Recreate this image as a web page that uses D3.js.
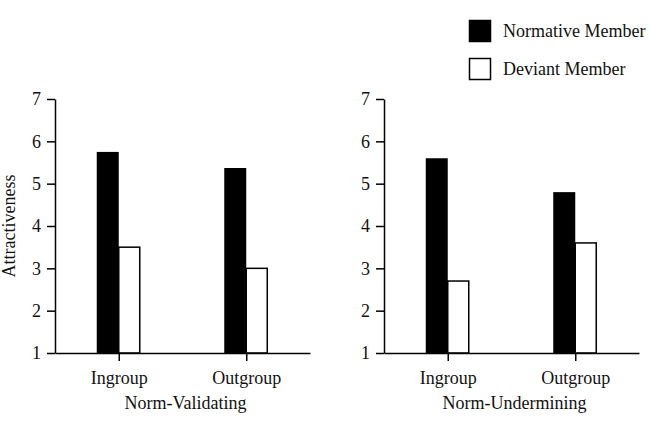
<!DOCTYPE html>
<html>
<head>
<meta charset="utf-8">
<script src="https://cdn.jsdelivr.net/npm/d3@7"></script>
<style>
  body { margin: 0; background: #fff; }
  svg text { font-family: "Liberation Serif", "DejaVu Serif", serif; fill: #111; }
</style>
</head>
<body>
<div id="chart"></div>
<script>
// data
const groups = ['Ingroup', 'Outgroup'];
const conditions = ['Norm-Validating', 'Norm-Undermining'];
const normativeValues = [[5.75, 5.37], [5.6, 4.8]];
const deviantValues = [[3.5, 3.0], [2.7, 3.6]];
const yTicks = [1, 2, 3, 4, 5, 6, 7];
const seriesNames = ['Normative Member', 'Deviant Member'];

const width = 650, height = 422;
const fontSize = 18;
const panelX = [55, 384]; // y-axis position of each panel
const panelW = 255;
const plotTop = 99, plotBottom = 353;
const barW = 22;

const svg = d3.select('#chart')
  .append('svg')
  .attr('width', width)
  .attr('height', height);

const yScale = d3.scaleLinear()
  .domain([1, 7])
  .range([plotBottom, plotTop]);

conditions.forEach((cond, i) => {
  const x0 = panelX[i];
  const xScale = d3.scalePoint()
    .domain(groups)
    .range([x0, x0 + panelW])
    .padding(0.5);

  const g = svg.append('g').attr('class', 'panel');

  // bars: normative (black) left of tick, deviant (white) right of tick
  g.selectAll('.bar-normative')
    .data(groups)
    .join('rect')
    .attr('class', 'bar-normative')
    .attr('x', d => xScale(d) - barW)
    .attr('y', (d, j) => yScale(normativeValues[i][j]))
    .attr('width', barW)
    .attr('height', (d, j) => yScale(1) - yScale(normativeValues[i][j]))
    .attr('fill', '#000');

  g.selectAll('.bar-deviant')
    .data(groups)
    .join('rect')
    .attr('class', 'bar-deviant')
    .attr('x', d => xScale(d))
    .attr('y', (d, j) => yScale(deviantValues[i][j]))
    .attr('width', barW - 1)
    .attr('height', (d, j) => yScale(1) - yScale(deviantValues[i][j]))
    .attr('fill', '#fff')
    .attr('stroke', '#000')
    .attr('stroke-width', 1.5);

  const yAxis = d3.axisLeft(yScale)
    .tickValues(yTicks)
    .tickFormat(d3.format('d'))
    .tickSize(8)
    .tickSizeOuter(0)
    .tickPadding(6);
  const yG = g.append('g')
    .attr('transform', `translate(${x0},0)`)
    .call(yAxis);

  const xAxis = d3.axisBottom(xScale)
    .tickSize(8)
    .tickSizeOuter(0)
    .tickPadding(10);
  const xG = g.append('g')
    .attr('transform', `translate(0,${plotBottom})`)
    .call(xAxis);

  [yG, xG].forEach(a => {
    a.attr('font-family', null).attr('font-size', null);
    a.selectAll('path, line').attr('stroke', '#000').attr('stroke-width', 1.5);
    a.selectAll('text')
      .attr('font-size', fontSize)
      .attr('fill', '#111');
  });

  g.append('text')
    .attr('x', xScale.range()[0] + panelW / 2 + 3)
    .attr('y', 409)
    .attr('text-anchor', 'middle')
    .attr('font-size', fontSize)
    .text(cond);
});

// y-axis title
svg.append('text')
  .attr('transform', `translate(15,${(plotTop + plotBottom) / 2}) rotate(-90)`)
  .attr('text-anchor', 'middle')
  .attr('font-size', fontSize)
  .text('Attractiveness');

// legend
const legend = svg.append('g')
  .attr('transform', 'translate(469,20)');
const items = legend.selectAll('g')
  .data(seriesNames)
  .join('g')
  .attr('transform', (d, i) => `translate(0,${i * 38})`);
items.append('rect')
  .attr('x', 0.5)
  .attr('y', 0.5)
  .attr('width', 21)
  .attr('height', 21)
  .attr('fill', (d, i) => i === 0 ? '#000' : '#fff')
  .attr('stroke', '#000')
  .attr('stroke-width', 1.5);
items.append('text')
  .attr('x', 34)
  .attr('y', 17)
  .attr('font-size', fontSize)
  .text(d => d);
</script>
</body>
</html>
